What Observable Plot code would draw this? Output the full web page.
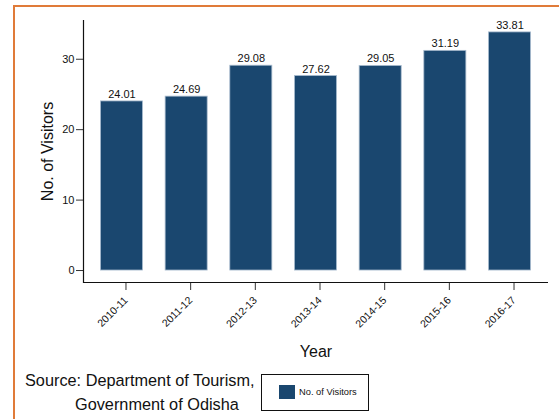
<!DOCTYPE html>
<html><head><meta charset="utf-8">
<script src="https://cdn.jsdelivr.net/npm/d3@7"></script>
<script src="https://cdn.jsdelivr.net/npm/@observablehq/plot@0.6"></script>
<style>
body{margin:0;background:#fff;font-family:"Liberation Sans",Arial,sans-serif;}
#wrap{position:relative;width:559px;height:419px;overflow:hidden;background:#fff;}
#frame{position:absolute;left:13px;top:5px;width:700px;height:600px;border-left:2px solid #e07b39;border-top:2px solid #e07b39;}
#chart{position:relative;}
#foot{position:relative;width:559px;height:54px;}
.src{position:absolute;white-space:nowrap;font-size:16.3px;line-height:18px;color:#111;}
#legend{position:absolute;left:261px;top:9px;width:108px;height:37px;border:1px solid #111;box-sizing:border-box;}
#sw{position:absolute;left:17px;top:10px;width:16px;height:14px;background:#1a476f;}
#lt{position:absolute;left:37px;top:11px;font-size:9.3px;color:#111;line-height:12px;white-space:nowrap;}
</style></head>
<body>
<div id="wrap">
<div id="frame"></div>
<div id="chart"></div>
<div id="foot">
<div class="src" style="left:25px;top:6px;">Source: Department of Tourism,</div>
<div class="src" style="left:75px;top:30px;">Government of Odisha</div>
<div id="legend"><div id="sw"></div><div id="lt">No. of Visitors</div></div>
</div>
</div>
<script>
const years = ["2010-11","2011-12","2012-13","2013-14","2014-15","2015-16","2016-17"];
const visitors = [24.01, 24.69, 29.08, 27.62, 29.05, 31.19, 33.81];
const yTicks = [0, 10, 20, 30];
const yDomain = [-1.7, 35.5];
const yTitle = "No. of Visitors";
const xTitle = "Year";

const data = years.map((y, i) => ({year: y, v: visitors[i]}));
const navy = "#1a476f";

const chart = Plot.plot({
  width: 559,
  height: 365,
  marginLeft: 83,
  marginRight: 11,
  marginTop: 20,
  marginBottom: 83,
  style: {fontFamily: "Liberation Sans, Arial, sans-serif", color: "#111", background: "transparent"},
  x: {domain: years, paddingInner: 0.35, paddingOuter: 0.27, round: false},
  y: {domain: yDomain},
  marks: [
    Plot.barY(data, {x: "year", y: "v", fill: navy, stroke: "#a9bccf", strokeWidth: 0.8}),
    Plot.text(data, {x: "year", y: "v", text: d => d.v.toFixed(2), dy: -7, fontSize: 11, fill: "#111"}),
    Plot.axisY({ticks: yTicks, tickSize: 7, tickPadding: 2, fontSize: 11, label: null, stroke: "#333"}),
    Plot.axisX({tickRotate: -45, tickSize: 8, tickPadding: 8, dx: 4, fontSize: 10.5, label: null, stroke: "#333"}),
    Plot.text([yTitle], {frameAnchor: "left", text: d => d, rotate: -90, textAnchor: "middle", lineAnchor: "middle", dx: -36, fontSize: 16, fill: "#111"}),
    Plot.text([xTitle], {frameAnchor: "bottom", text: d => d, textAnchor: "middle", lineAnchor: "middle", dy: 69.5, fontSize: 16, fill: "#111"}),
    Plot.ruleY([yDomain[0]], {stroke: "#111", strokeWidth: 1.2}),
    Plot.frame({anchor: "left", stroke: "#111", strokeWidth: 1.2})
  ]
});
document.getElementById("chart").appendChild(chart);
</script>
</body></html>
